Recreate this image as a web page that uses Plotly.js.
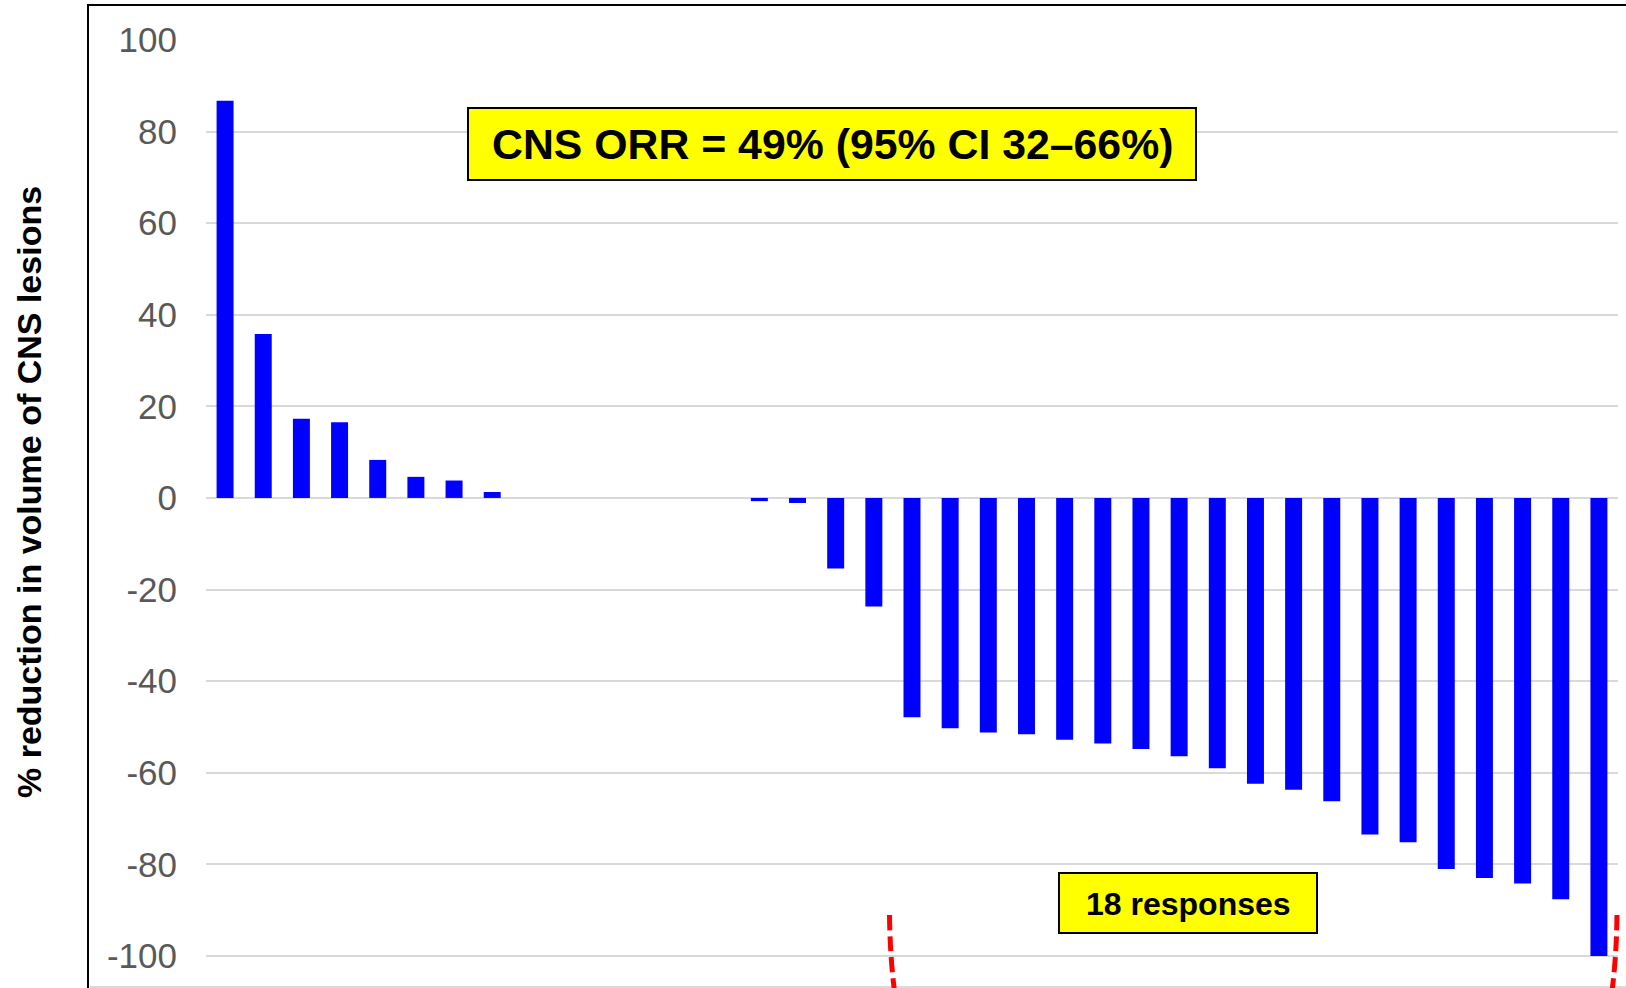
<!DOCTYPE html>
<html>
<head>
<meta charset="utf-8">
<script src="https://cdn.plot.ly/plotly-3.0.1.min.js"></script>
<style>
  html, body { margin: 0; padding: 0; background: #ffffff; }
  #chart { width: 1626px; height: 988px; }
</style>
</head>
<body>
<div id="chart"></div>
<script>
// ---- Data ----
const patients = Array.from({length: 37}, (_, i) => 'P' + (i + 1));
const changePct = [
  86.7, 35.8, 17.3, 16.5, 8.3, 4.6, 3.8, 1.3,
  0, 0, 0, 0, 0, 0,
  -0.7, -1.1, -15.4, -23.7,
  -47.9, -50.3, -51.2, -51.6, -52.8, -53.6, -54.8, -56.4,
  -59.0, -62.4, -63.7, -66.2, -73.5, -75.2, -81.0, -83.0, -84.2, -87.6, -100.0
];
const yTickVals = [-100, -80, -60, -40, -20, 0, 20, 40, 60, 80, 100];
const yTickText = ['-100', '-80', '-60', '-40', '-20', '0', '20', '40', '60', '80', '100'];
const yAxisTitle = '% reduction in volume of CNS lesions';
const orrLabel = 'CNS ORR = 49% (95% CI 32\u201366%)';
const responsesLabel = '18 responses';

// ---- Layout geometry (pixels) ----
const W = 1626, H = 988;
const L = 206, R = 1618, T = 39, B = 988;
const px = x => (x - L) / (R - L);
const py = y => (B - y) / (B - T);

const FONT = '"Liberation Sans", Arial, sans-serif';

const trace = {
  type: 'bar',
  x: patients,
  y: changePct,
  marker: { color: '#0000FF', line: { width: 0 } },
  hoverinfo: 'x+y'
};

function dashedCurve(x0, y0, cx, cy, x1, y1) {
  return 'M ' + px(x0) + ',' + py(y0) + ' Q ' + px(cx) + ',' + py(cy) + ' ' + px(x1) + ',' + py(y1);
}

const layout = {
  width: W, height: H,
  margin: { l: L, r: W - R, t: T, b: H - B, pad: 0, autoexpand: false },
  paper_bgcolor: '#ffffff',
  plot_bgcolor: '#ffffff',
  showlegend: false,
  bargap: 0.555,
  font: { family: FONT },
  xaxis: {
    type: 'category',
    range: [-0.5, 36.5],
    showticklabels: false,
    showgrid: false,
    zeroline: false,
    showline: false,
    ticks: ''
  },
  yaxis: {
    range: [-107.0, 100.2],
    tickmode: 'array',
    tickvals: yTickVals,
    ticktext: yTickText,
    showgrid: true,
    gridcolor: '#d9d9d9',
    gridwidth: 2,
    zeroline: true,
    zerolinecolor: '#d9d9d9',
    zerolinewidth: 2,
    showline: false,
    ticks: 'outside',
    ticklen: 21,
    tickcolor: 'rgba(0,0,0,0)',
    tickfont: { family: FONT, size: 35, color: '#595959' },
    automargin: false
  },
  shapes: [
    // outer frame (left and top borders)
    { type: 'line', xref: 'paper', yref: 'paper', x0: px(88), x1: px(88), y0: py(5), y1: py(990),
      line: { color: '#000000', width: 2 } },
    { type: 'line', xref: 'paper', yref: 'paper', x0: px(87), x1: px(1630), y0: py(5), y1: py(5),
      line: { color: '#000000', width: 2 } },
    // bottom light border
    { type: 'line', xref: 'paper', yref: 'paper', x0: px(90), x1: px(1630), y0: py(987), y1: py(987),
      line: { color: '#d9d9d9', width: 2 } },
    // ORR box
    { type: 'rect', xref: 'paper', yref: 'paper', x0: px(468), x1: px(1196), y0: py(180), y1: py(108),
      fillcolor: '#FFFF00', line: { color: '#000000', width: 2 }, layer: 'above' },
    // responses box
    { type: 'rect', xref: 'paper', yref: 'paper', x0: px(1059), x1: px(1317), y0: py(933), y1: py(873),
      fillcolor: '#FFFF00', line: { color: '#000000', width: 2 }, layer: 'above' },
    // red dashed bracket lines
    { type: 'path', xref: 'paper', yref: 'paper', path: dashedCurve(889.5, 915, 890, 958, 895, 995),
      line: { color: '#FF0000', width: 5, dash: '15px,6px' } },
    { type: 'path', xref: 'paper', yref: 'paper', path: dashedCurve(1617, 915, 1616.5, 958, 1611.5, 995),
      line: { color: '#FF0000', width: 5, dash: '15px,6px' } }
  ],
  annotations: [
    { xref: 'paper', yref: 'paper', x: px(28.5), y: py(492.5), xanchor: 'center', yanchor: 'middle',
      text: yAxisTitle, textangle: -90, showarrow: false,
      font: { family: FONT, size: 34, color: '#000000', weight: 700 } },
    { xref: 'paper', yref: 'paper', x: px(832), y: py(144), xanchor: 'center', yanchor: 'middle',
      text: orrLabel, showarrow: false,
      font: { family: FONT, size: 42.8, color: '#000000', weight: 700 } },
    { xref: 'paper', yref: 'paper', x: px(1188), y: py(904), xanchor: 'center', yanchor: 'middle',
      text: responsesLabel, showarrow: false,
      font: { family: FONT, size: 32, color: '#000000', weight: 700 } }
  ]
};

Plotly.newPlot('chart', [trace], layout, { displayModeBar: false, staticPlot: true });
</script>
</body>
</html>
